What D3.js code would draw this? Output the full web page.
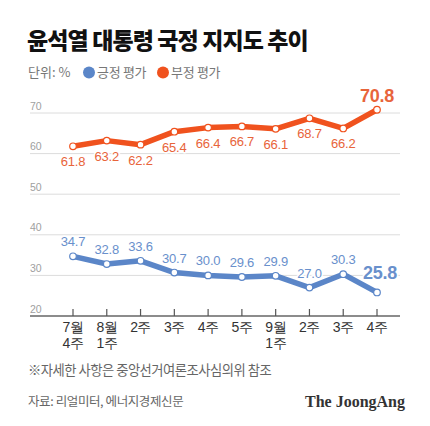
<!DOCTYPE html>
<html><head><meta charset="utf-8">
<script src="https://cdn.jsdelivr.net/npm/d3@7"></script>
<style>
html,body{margin:0;padding:0;background:#fff;}
svg{display:block;font-family:"Noto Sans CJK KR","Noto Sans",sans-serif;}
</style></head>
<body>
<script>
const categories = ["7월 4주","8월 1주","8월 2주","8월 3주","8월 4주","8월 5주","9월 1주","9월 2주","9월 3주","9월 4주"];
const tickLabels = [["7월","4주"],["8월","1주"],["2주"],["3주"],["4주"],["5주"],["9월","1주"],["2주"],["3주"],["4주"]];
const negative = [61.8,63.2,62.2,65.4,66.4,66.7,66.1,68.7,66.2,70.8];
const positive = [34.7,32.8,33.6,30.7,30.0,29.6,29.9,27.0,30.3,25.8];
const yTicks = [20,30,40,50,60,70];
const title = "윤석열 대통령 국정 지지도 추이";
const seriesNames = ["긍정 평가","부정 평가"];

const W=430,H=426;
const blue="#5b86c8", orange="#f0521e";
const blueText="#6990cc", orangeText="#e8643a";
const numFont="'Liberation Sans',Arial,sans-serif";
const svg=d3.select("body").append("svg").attr("width",W).attr("height",H);

const x=d3.scalePoint().domain(categories).range([73,377]);
const y=d3.scaleLinear().domain([20,70]).range([316,113]);

// title
svg.append("text").attr("x",27).attr("y",49).attr("font-size",23).attr("font-weight",900)
  .attr("letter-spacing",-0.9).attr("fill","#111").text(title);

// legend
svg.append("text").attr("x",28).attr("y",77).attr("font-size",13).attr("fill","#777").text("단위: %");
const lg=[{n:seriesNames[0],c:blue,x:89},{n:seriesNames[1],c:orange,x:163}];
lg.forEach(d=>{
  svg.append("circle").attr("cx",d.x).attr("cy",72.5).attr("r",6).attr("fill",d.c);
  svg.append("text").attr("x",d.x+8).attr("y",77).attr("font-size",13).attr("fill","#777").attr("letter-spacing",-0.3).text(d.n);
});

// grid
const grid=svg.append("g");
yTicks.forEach(t=>{
  if(t!==20) grid.append("line").attr("x1",30).attr("x2",400).attr("y1",y(t)).attr("y2",y(t))
    .attr("stroke","#dcdcdc").attr("stroke-width",1);
  grid.append("text").attr("x",30).attr("y",y(t)-3.5).attr("font-size",10.5).attr("font-family",numFont).attr("fill","#a0a0a0").text(t);
});

// baseline axis
const xAxis=d3.axisBottom(x).tickSize(0).tickFormat("");
const ax=svg.append("g").attr("transform",`translate(0,${y(20)})`).call(xAxis);
ax.select(".domain").remove();
ax.append("line").attr("x1",30).attr("x2",400).attr("stroke","#666").attr("stroke-width",1.5);
categories.forEach((c,i)=>{
  ax.append("line").attr("x1",x(c)).attr("x2",x(c)).attr("y1",0).attr("y2",-7).attr("stroke","#555").attr("stroke-width",1.2);
  const t=ax.append("text").attr("text-anchor","middle").attr("font-size",14).attr("font-weight",500).attr("fill","#333").attr("letter-spacing",-0.5);
  tickLabels[i].forEach((s,j)=>t.append("tspan").attr("x",x(c)).attr("y",16+j*15.5).text(s));
});

// lines
const line=d3.line().x((d,i)=>x(categories[i])).y(d=>y(d));
[[negative,orange],[positive,blue]].forEach(([data,col])=>{
  svg.append("path").datum(data).attr("d",line).attr("fill","none").attr("stroke",col)
    .attr("stroke-width",5.5).attr("stroke-linejoin","round").attr("stroke-linecap","round");
});

// negative: below points except last (above)
negative.forEach((v,i)=>{
  const last=i===negative.length-1;
  svg.append("text").attr("text-anchor","middle").attr("x",x(categories[i]))
    .attr("y", last? y(v)-8 : y(v)+20).attr("font-family",numFont)
    .attr("fill",orangeText).attr("font-size",last?18:13).attr("font-weight",last?700:400)
    .attr("letter-spacing",-0.2)
    .attr("stroke","#fff").attr("stroke-width",3).attr("paint-order","stroke").attr("stroke-linejoin","round")
    .text(v.toFixed(1));
});
positive.forEach((v,i)=>{
  const last=i===positive.length-1;
  svg.append("text").attr("text-anchor","middle").attr("x",x(categories[i])+(last?3:0))
    .attr("y", last? y(v)-13 : y(v)-10).attr("font-family",numFont)
    .attr("fill",blueText).attr("font-size",last?18:13).attr("font-weight",last?700:400)
    .attr("letter-spacing",-0.2)
    .attr("stroke","#fff").attr("stroke-width",3).attr("paint-order","stroke").attr("stroke-linejoin","round")
    .text(v.toFixed(1));
});

// points
[[negative,orange],[positive,blue]].forEach(([data,col])=>{
  svg.append("g").selectAll("circle").data(data).join("circle")
    .attr("cx",(d,i)=>x(categories[i])).attr("cy",d=>y(d)).attr("r",3.3)
    .attr("fill","#fff").attr("stroke",col).attr("stroke-width",1.2);
});

// footer
svg.append("text").attr("x",28).attr("y",375).attr("font-size",13.3).attr("fill","#666").attr("letter-spacing",-0.5)
  .text("※자세한 사항은 중앙선거여론조사심의위 참조");
svg.append("text").attr("x",28).attr("y",406).attr("font-size",12.5).attr("fill","#666").attr("letter-spacing",-0.4)
  .text("자료: 리얼미터, 에너지경제신문");
svg.append("text").attr("x",405).attr("y",407).attr("text-anchor","end").attr("font-size",16)
  .attr("font-weight",700).attr("font-family","'Liberation Serif','DejaVu Serif',serif").attr("fill","#333")
  .text("The JoongAng");
</script>
</body></html>
